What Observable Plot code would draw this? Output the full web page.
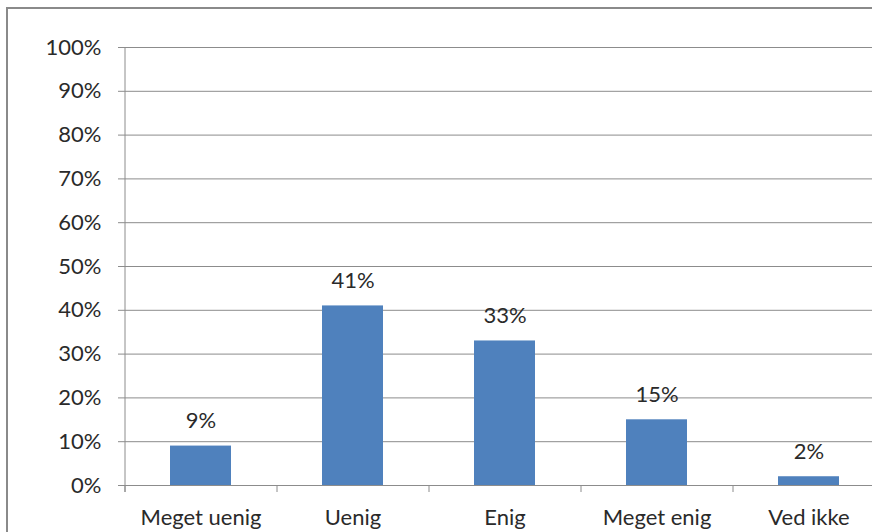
<!DOCTYPE html>
<html>
<head>
<meta charset="utf-8">
<script src="https://cdn.jsdelivr.net/npm/d3@7"></script>
<script src="https://cdn.jsdelivr.net/npm/@observablehq/plot@0.6"></script>
<style>
  html, body { margin: 0; padding: 0; background: #fff; overflow: hidden; }
  #wrap { position: relative; width: 872px; height: 532px; overflow: hidden; }
  #border { position: absolute; left: 6px; top: 7px; width: 900px; height: 600px;
            border: 2px solid #8a8a8a; box-sizing: border-box; pointer-events: none; }
  #chart svg { display: block; }
</style>
</head>
<body>
<div id="wrap">
  <div id="chart"></div>
  <div id="border"></div>
</div>
<script>
const categories = ["Meget uenig", "Uenig", "Enig", "Meget enig", "Ved ikke"];
const values = [9, 41, 33, 15, 2];
const yTicks = [0, 10, 20, 30, 40, 50, 60, 70, 80, 90, 100];

const data = categories.map((c, i) => ({category: c, value: values[i]}));
const font = "Lato, 'Open Sans', sans-serif";

const chart = Plot.plot({
  width: 872,
  height: 532,
  marginTop: 47,
  marginBottom: 47,
  marginLeft: 124,
  marginRight: 0,
  style: {fontFamily: font, fontSize: "22px", color: "#2a2a2a", background: "transparent", overflow: "hidden"},
  x: {domain: categories, range: [124, 884], paddingInner: 0.6, paddingOuter: 0.3},
  y: {domain: [0, 100]},
  marks: [
    Plot.ruleY(yTicks, {stroke: "#8c8c8c", strokeWidth: 1}),
    Plot.barY(data, {x: "category", y: "value", fill: "#4f81bd"}),
    Plot.text(data, {x: "category", y: "value", text: d => d.value + "%", dy: -25, fill: "#2a2a2a", fontSize: 22}),
    Plot.ruleX(categories, {x: d => d, dx: -76, y1: -1.6, y2: 0, stroke: "#8c8c8c"}),
    Plot.ruleX([categories[0]], {x: d => d, dx: -76, y1: -1.6, y2: 100, stroke: "#8c8c8c"}),
    Plot.axisY({ticks: yTicks, tickFormat: d => d + "%", tickSize: 6, tickPadding: 17, stroke: "#8c8c8c", fill: "#2a2a2a", fontSize: 22, label: null}),
    Plot.axisX({tickSize: 0, tickPadding: 24, fill: "#2a2a2a", fontSize: 22, label: null})
  ]
});
document.getElementById("chart").appendChild(chart);
</script>
</body>
</html>
